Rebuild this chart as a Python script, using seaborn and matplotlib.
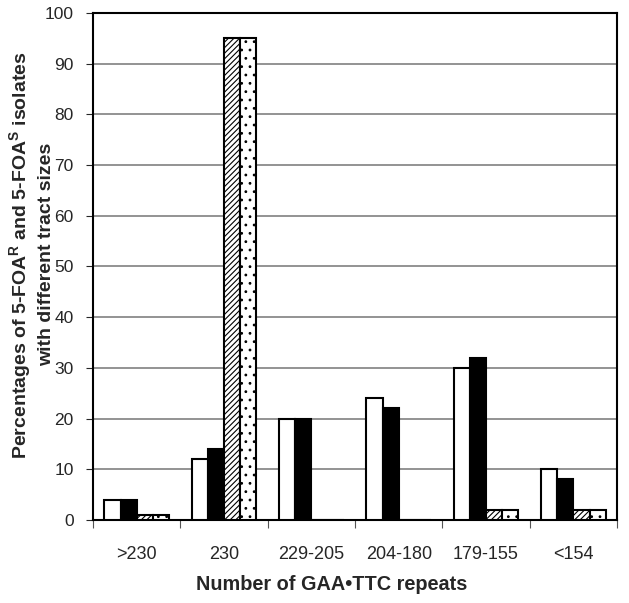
import matplotlib
matplotlib.use('Agg')
import matplotlib.pyplot as plt
import seaborn as sns
import pandas as pd
import numpy as np

# tract size bins
categories = ['>230', '230', '229-205', '204-180', '179-155', '<154']
series = ['5-FOA R (1)', '5-FOA R (2)', '5-FOA S (1)', '5-FOA S (2)']
vals_white = [4, 12, 20, 24, 30, 10]
vals_black = [4, 14, 20, 22, 32, 8]
vals_hatch = [1, 95, 0, 0, 2, 2]
vals_dots = [1, 95, 0, 0, 2, 2]

df = pd.DataFrame({
    'bin': categories * 4,
    'group': np.repeat(series, len(categories)),
    'pct': vals_white + vals_black + vals_hatch + vals_dots,
})

sns.set_style('white')
plt.rcParams['font.family'] = ['Liberation Sans', 'DejaVu Sans']
plt.rcParams['mathtext.fontset'] = 'custom'
plt.rcParams['mathtext.rm'] = 'Liberation Sans:bold'
plt.rcParams['mathtext.bf'] = 'Liberation Sans:bold'
plt.rcParams['hatch.linewidth'] = 0.8

fig = plt.figure(figsize=(6.29, 6.03), dpi=100)
ax = fig.add_axes([0.148, 0.1376, 0.833, 0.841])

sns.barplot(data=df, x='bin', y='pct', hue='group', order=categories, hue_order=series,
            palette=['white', 'black', 'white', 'white'], width=0.74, gap=0,
            edgecolor='black', linewidth=1.5, saturation=1, legend=False, ax=ax, zorder=3)

hatches = [None, None, '//////', '..']
for cont, h in zip(ax.containers, hatches):
    for bar in cont:
        if h:
            bar.set_hatch(h)

ax.set_ylim(0, 100)
ax.set_xlim(-0.5, 5.5)
ax.set_yticks(range(0, 101, 10))
ax.yaxis.grid(True, color='#808080', linewidth=1.2, zorder=0)
ax.set_axisbelow(True)

# ticks between groups
ax.set_xticks(np.arange(-0.5, 6, 1), minor=True)
ax.tick_params(axis='x', which='major', length=0, labelsize=13, pad=19)
ax.tick_params(axis='x', which='minor', length=6, width=0.8, color='#555555', direction='out', bottom=True)
ax.tick_params(axis='y', length=5, width=0.8, labelsize=12.5, left=True, direction='out', pad=9)

for s in ax.spines.values():
    s.set_visible(True)
    s.set_color('black')
    s.set_linewidth(1.5)

ax.set_xlabel('Number of GAA\u2022TTC repeats', fontsize=14.3, fontweight='bold')
ax.xaxis.set_label_coords(0.456, -0.108)
ax.set_ylabel('Percentages of 5-FOA$^{\\mathbf{R}}$ and 5-FOA$^{\\mathbf{S}}$ isolates\nwith different tract sizes',
              fontsize=14, fontweight='bold', linespacing=1.3)
ax.yaxis.set_label_coords(-0.0725, 0.523)

fig.savefig('out.png', dpi=100)
